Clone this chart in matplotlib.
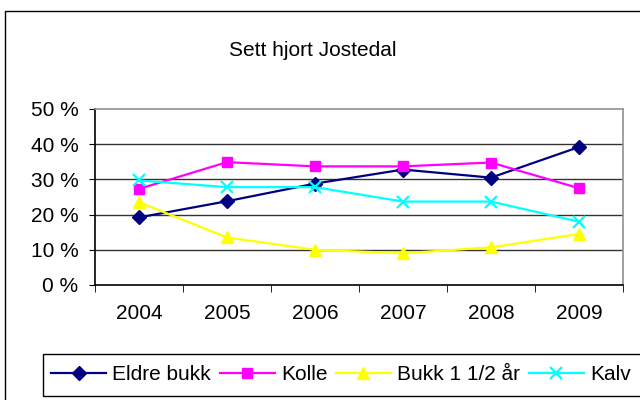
import numpy as np
import matplotlib
matplotlib.use("Agg")
import matplotlib.pyplot as plt
from matplotlib.patches import Rectangle

plt.rcParams['font.family'] = ['Liberation Sans', 'DejaVu Sans']

years = ['2004', '2005', '2006', '2007', '2008', '2009']
eldre_bukk = [19.2, 23.8, 28.8, 32.8, 30.5, 39.2]
kolle = [27.3, 34.9, 33.7, 33.7, 34.8, 27.5]
bukk_halvannet = [23.5, 13.5, 10.0, 9.0, 10.7, 14.5]
kalv = [29.7, 27.8, 27.8, 23.7, 23.7, 18.0]

FS = 15

fig = plt.figure(figsize=(6.4, 4.0), dpi=100)
W, H = 640, 400

# chart area border (runs off the right and bottom edge like the original)
fig.patches.append(Rectangle((5 / W, -0.05), 1.2, 1 - 11 / H + 0.05,
                             transform=fig.transFigure, fill=False,
                             edgecolor='black', linewidth=1.0))

ax = fig.add_axes([95 / W, 1 - 285 / H, (623 - 95) / W, (285 - 109) / H])

x = np.arange(len(years))
ax.plot(x, eldre_bukk, color='#000080', marker='D', markersize=7, lw=1.6, label='Eldre bukk')
ax.plot(x, kolle, color='#FF00FF', marker='s', markersize=7.5, lw=1.6, label='Kolle')
ax.plot(x, bukk_halvannet, color='#FFFF00', marker='^', markersize=9, lw=1.6, label='Bukk 1 1/2 år')
ax.plot(x, kalv, color='#00FFFF', marker='x', markersize=9, mew=1.6, lw=1.6, label='Kalv')

ax.set_xlim(-0.5, len(years) - 0.5)
ax.set_ylim(0, 50)
ax.set_yticks(range(0, 51, 10))
ax.set_yticklabels([f'{v} %' for v in range(0, 51, 10)], fontsize=FS)
ax.set_xticks(x)
ax.set_xticklabels(years, fontsize=FS)
ax.tick_params(axis='x', length=0, pad=14)
ax.set_xticks(np.arange(-0.5, len(years)), minor=True)
ax.tick_params(axis='x', which='minor', length=5, direction='out', color='black')
ax.tick_params(axis='y', length=4, direction='out', color='black', pad=8)

for v in range(10, 50, 10):
    ax.axhline(v, color='#333333', lw=1.0, zorder=0)

ax.spines['left'].set_color('black')
ax.spines['bottom'].set_color('black')
ax.spines['top'].set_color('#909090')
ax.spines['right'].set_color('#909090')
for s in ax.spines.values():
    s.set_linewidth(1.2)

fig.text(313 / W, 1 - 51 / H, 'Sett hjort Jostedal', ha='center', va='center', fontsize=FS)

# legend box
fig.patches.append(Rectangle((43 / W, 1 - 396 / H), 1.0, 42 / H,
                             transform=fig.transFigure, fill=False,
                             edgecolor='black', linewidth=1.0))
handles, labels = ax.get_legend_handles_labels()
fig.legend(handles, labels, loc='center left', bbox_to_anchor=(51 / W, 1 - 375 / H),
           ncol=4, frameon=False, fontsize=FS, handlelength=2.65, handletextpad=0.3,
           columnspacing=0.4, borderpad=0, borderaxespad=0)

fig.savefig('out.png', dpi=100)
